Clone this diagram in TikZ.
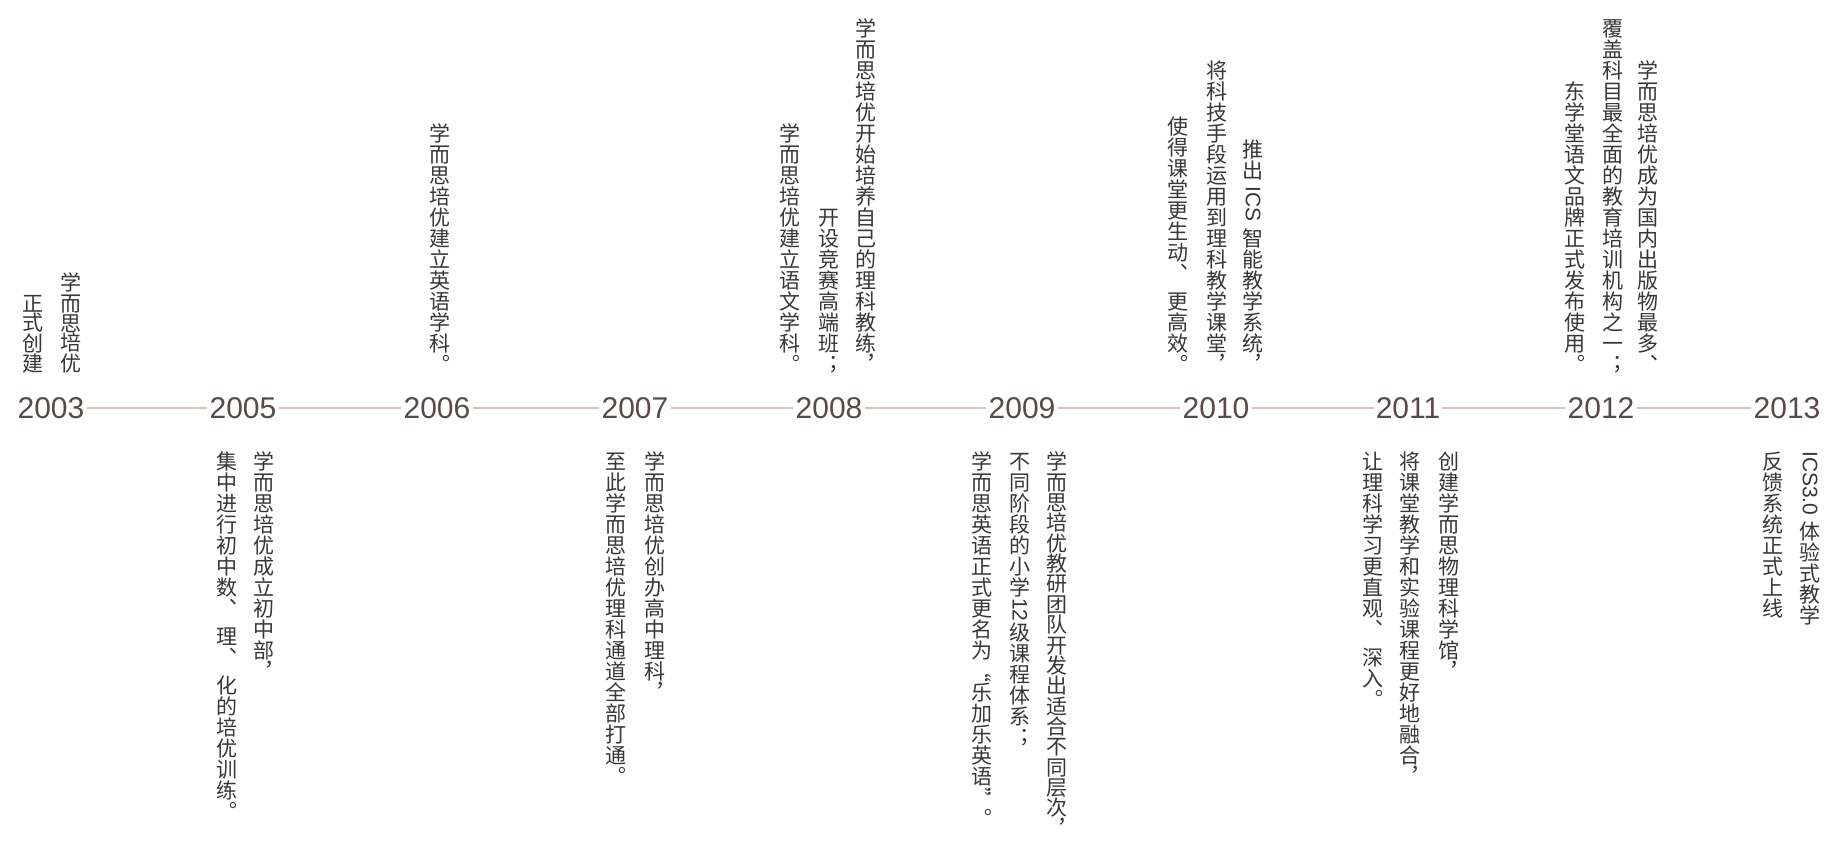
\documentclass[tikz,border=0pt]{standalone}
\usepackage{fontspec}
\newfontfamily\cjkfont{Noto Sans CJK SC}
\newfontfamily\latfont{Liberation Sans}
\definecolor{yearc}{RGB}{88,74,72}
\definecolor{txtc}{RGB}{55,55,55}
\definecolor{linec}{RGB}{218,192,187}
\newcommand\vcell[2]{\hbox to 1em{\hss\vrule height .88em depth #1 width 0pt\relax #2\hss}}
\ExplSyntaxOn
\NewDocumentCommand\vcol{O{.12em}m}{\vbox{\offinterlineskip\tl_map_inline:nn{#2}{\vcell{#1}{##1}}}}
\ExplSyntaxOff
\newcommand\vlat[1]{\raisebox{.88em}{\rotatebox{-90}{\latfont #1}}}
\newcommand\vcj[1]{\raisebox{.88em}{\rotatebox{-90}{#1}}}
\newcommand\dun{︑\vrule depth .45em width 0pt\relax}
\begin{document}
\begin{tikzpicture}[x=1pt,y=-1pt,
  yr/.style={font=\latfont\fontsize{30}{30}\selectfont, text=yearc, inner sep=2pt, anchor=base},
  up/.style={anchor=south, inner sep=0pt, text=txtc, font=\cjkfont\fontsize{21}{21}\selectfont},
  dn/.style={anchor=north, inner sep=0pt, text=txtc, font=\cjkfont\fontsize{21}{21}\selectfont},
  tl/.style={draw=linec, line width=1.8pt}]
\useasboundingbox[fill=white] (0,0) rectangle (1830,841);
% years
\node[yr] (y2003) at (51,418) {2003};
\node[yr] (y2005) at (243,418) {2005};
\node[yr] (y2006) at (437,418) {2006};
\node[yr] (y2007) at (635,418) {2007};
\node[yr] (y2008) at (829,418) {2008};
\node[yr] (y2009) at (1022,418) {2009};
\node[yr] (y2010) at (1216,418) {2010};
\node[yr] (y2011) at (1408,418) {2011};
\node[yr] (y2012) at (1601,418) {2012};
\node[yr] (y2013) at (1787,418) {2013};
\foreach \a/\b in {2003/2005,2005/2006,2006/2007,2007/2008,2008/2009,2009/2010,2010/2011,2011/2012,2012/2013}
  \draw[tl] (y\a.east) -- (y\b.west);
% 2003
\node[up] (t03a) at (71,373) {\vcol[.02em]{学而思培优}};
\node[up] (t03b) at (33,373) {\vcol[.02em]{正式创建}};
% 2005
\node[dn] (b05a) at (264,451) {\vcol{学而思培优成立初中部︐}};
\node[dn] (b05b) at (227,451) {\vcol{集中进行初中数{\dun}理{\dun}化的培优训练︒}};
% 2006
\node[up] (t06a) at (440,375) {\vcol{学而思培优建立英语学科︒}};
% 2007
\node[dn] (b07a) at (655,451) {\vcol{学而思培优创办高中理科︐}};
\node[dn] (b07b) at (616,451) {\vcol{至此学而思培优理科通道全部打通︒}};
% 2008
\node[up] (t08a) at (866,375) {\vcol{学而思培优开始培养自己的理科教练︐}};
\node[up] (t08b) at (829,375) {\vcol{开设竞赛高端班︔}};
\node[up] (t08c) at (790,375) {\vcol{学而思培优建立语文学科︒}};
% 2009
\node[dn] (b09a) at (1057,451) {\vcol[.09em]{学而思培优教研团队开发出适合不同层次︐}};
\node[dn] (b09b) at (1020,451) {\vcol{不同阶段的小学{\vlat{12}}级课程体系︔}};
\node[dn] (b09c) at (982,451) {\vcol{学而思英语正式更名为{\vcj{“}}乐加乐英语{\vcj{”}}︒}};
% 2010
\node[up] (t10a) at (1253,375) {\vcol{推出{\vlat{\ ICS\ }}智能教学系统︐}};
\node[up] (t10b) at (1217,375) {\vcol{将科技手段运用到理科教学课堂︐}};
\node[up] (t10c) at (1178,375) {\vcol{使得课堂更生动{\dun}更高效︒}};
% 2011
\node[dn] (b11a) at (1449,451) {\vcol{创建学而思物理科学馆︐}};
\node[dn] (b11b) at (1410,451) {\vcol{将课堂教学和实验课程更好地融合︐}};
\node[dn] (b11c) at (1373,451) {\vcol{让理科学习更直观{\dun}深入︒}};
% 2012
\node[up] (t12a) at (1648,375) {\vcol{学而思培优成为国内出版物最多︑}};
\node[up] (t12b) at (1613,375) {\vcol{覆盖科目最全面的教育培训机构之一︔}};
\node[up] (t12c) at (1575,375) {\vcol{东学堂语文品牌正式发布使用︒}};
% 2013
\node[dn] (b13a) at (1810,451) {\vcol{{\vlat{ICS3.0\ }}体验式教学}};
\node[dn] (b13b) at (1773,451) {\vcol{反馈系统正式上线}};
\end{tikzpicture}
\end{document}
